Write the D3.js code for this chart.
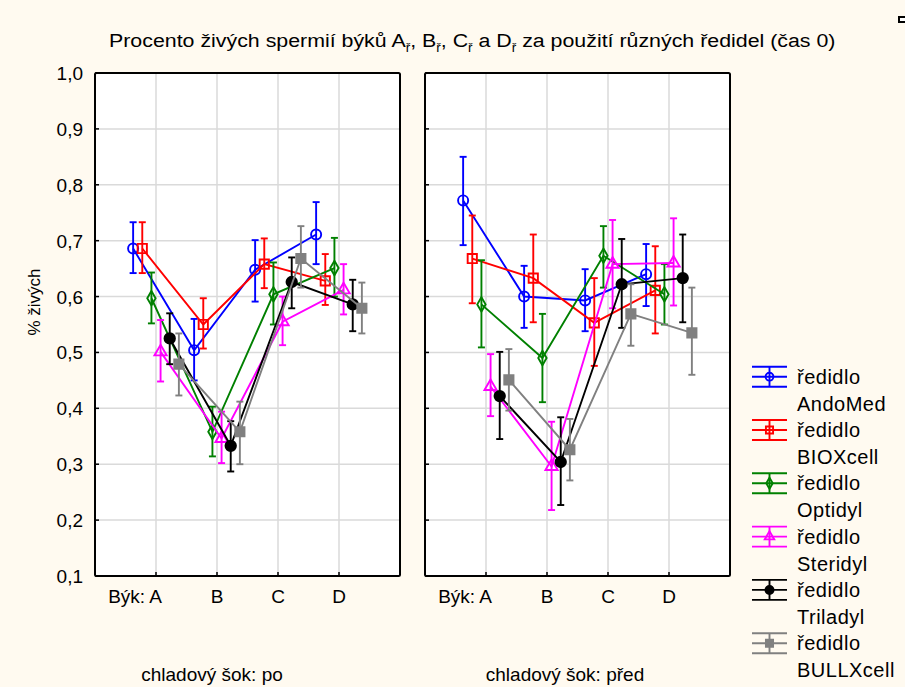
<!DOCTYPE html>
<html>
<head>
<meta charset="utf-8">
<script src="https://cdn.jsdelivr.net/npm/d3@7"></script>
<style>
  body { margin: 0; background: #fffaf0; }
  svg { display: block; font-family: "Liberation Sans", Arial, sans-serif; }
</style>
</head>
<body>
<svg id="chart" width="905" height="687"></svg>
<script>
var categories = ["A", "B", "C", "D"];
var panelNames = ["chladový šok: po", "chladový šok: před"];
var seriesNames = ["AndoMed", "BIOXcell", "Optidyl", "Steridyl", "Triladyl", "BULLXcell"];
var seriesColors = ["#0000ff", "#ff0000", "#008000", "#ff00ff", "#000000", "#808080"];
var yTicks = [0.1, 0.2, 0.3, 0.4, 0.5, 0.6, 0.7, 0.8, 0.9, 1.0];

// chladový šok: po
var meanPo = [
  [0.686, 0.504, 0.648, 0.711],
  [0.686, 0.550, 0.658, 0.628],
  [0.597, 0.358, 0.604, 0.651],
  [0.501, 0.346, 0.555, 0.612],
  [0.525, 0.333, 0.626, 0.586],
  [0.479, 0.358, 0.668, 0.579]
];
var lowPo = [
  [0.642, 0.450, 0.591, 0.658],
  [0.642, 0.507, 0.615, 0.585],
  [0.552, 0.314, 0.550, 0.600],
  [0.448, 0.302, 0.513, 0.568],
  [0.479, 0.287, 0.579, 0.538],
  [0.423, 0.300, 0.616, 0.534]
];
var highPo = [
  [0.733, 0.560, 0.701, 0.769],
  [0.733, 0.597, 0.704, 0.676],
  [0.643, 0.403, 0.661, 0.705],
  [0.558, 0.394, 0.600, 0.658],
  [0.570, 0.377, 0.670, 0.630],
  [0.534, 0.412, 0.726, 0.625]
];

// chladový šok: před
var meanPred = [
  [0.772, 0.600, 0.593, 0.640],
  [0.668, 0.633, 0.553, 0.611],
  [0.586, 0.490, 0.673, 0.604],
  [0.439, 0.296, 0.658, 0.660],
  [0.422, 0.304, 0.622, 0.633],
  [0.451, 0.326, 0.569, 0.535]
];
var lowPred = [
  [0.692, 0.544, 0.538, 0.583],
  [0.588, 0.554, 0.476, 0.534],
  [0.509, 0.411, 0.616, 0.550],
  [0.386, 0.218, 0.579, 0.584],
  [0.345, 0.227, 0.544, 0.554],
  [0.396, 0.271, 0.512, 0.460]
];
var highPred = [
  [0.850, 0.655, 0.649, 0.694],
  [0.745, 0.711, 0.633, 0.690],
  [0.665, 0.569, 0.726, 0.658],
  [0.497, 0.376, 0.737, 0.740],
  [0.501, 0.384, 0.703, 0.711],
  [0.506, 0.381, 0.622, 0.616]
];

var panelData = [
  {mean: meanPo, low: lowPo, high: highPo},
  {mean: meanPred, low: lowPred, high: highPred}
];

var svg = d3.select("#chart");
var panelLeft = [95, 425];
var panelW = 305;
var plotTop = 73, plotBottom = 576;
var lw = 1.9;

var y = d3.scaleLinear().domain([0.1, 1.0]).range([plotBottom, plotTop]);

// marker shapes per series
var symbols = [
  {type: d3.symbolCircle, size: 80, fill: false},
  {type: d3.symbolSquare, size: 85, fill: false},
  {type: d3.symbolDiamond, size: 60, fill: false},
  {type: d3.symbolTriangle, size: 65, fill: false},
  {type: d3.symbolCircle, size: 85, fill: true},
  {type: d3.symbolSquare, size: 85, fill: true}
];

function drawMarker(g, i, cx, cy, scale) {
  var s = symbols[i];
  g.append("path")
    .attr("d", d3.symbol().type(s.type).size(s.size * (scale || 1))())
    .attr("transform", "translate(" + cx + "," + cy + ")")
    .attr("fill", s.fill ? seriesColors[i] : "none")
    .attr("stroke", seriesColors[i])
    .attr("stroke-width", lw);
}

// title
var title = svg.append("text")
  .attr("y", 47)
  .attr("font-size", 19)
  .attr("fill", "#000");
var tparts = [
  ["Procento živých spermií býků A", false], ["ř", true],
  [", B", false], ["ř", true], [", C", false], ["ř", true],
  [" a D", false], ["ř", true], [" za použití různých ředidel (čas 0)", false]
];
tparts.forEach(function(p, i) {
  var t = title.append("tspan").text(p[0]);
  if (p[1]) t.attr("font-size", 12).attr("dy", 5);
  else if (i > 0) t.attr("dy", -5);
});
var tw = title.node().getBBox().width;
title.attr("transform", "translate(109,0) scale(" + (727 / tw) + ",1)");

panelData.forEach(function(pd, p) {
  var x0 = panelLeft[p];
  var x = d3.scaleLinear().domain([0, 5]).range([x0, x0 + panelW]);
  var g = svg.append("g");

  g.append("rect")
    .attr("x", x0).attr("y", plotTop)
    .attr("width", panelW).attr("height", plotBottom - plotTop)
    .attr("fill", "#fff");

  // grid
  g.selectAll(".hg").data(yTicks.slice(1, -1)).enter().append("line")
    .attr("x1", x0).attr("x2", x0 + panelW)
    .attr("y1", function(d) { return y(d); }).attr("y2", function(d) { return y(d); })
    .attr("stroke", "#dadada").attr("stroke-width", 1.5);
  g.selectAll(".vg").data(categories).enter().append("line")
    .attr("x1", function(d, i) { return x(i + 1); }).attr("x2", function(d, i) { return x(i + 1); })
    .attr("y1", plotTop).attr("y2", plotBottom)
    .attr("stroke", "#dadada").attr("stroke-width", 1.5);

  // series
  seriesNames.forEach(function(name, s) {
    var col = seriesColors[s];
    var off = (s - 2.5) * 0.15;
    var pts = categories.map(function(c, i) {
      return {x: x(i + 1 + off), m: pd.mean[s][i], lo: pd.low[s][i], hi: pd.high[s][i]};
    });
    g.append("path")
      .datum(pts)
      .attr("d", d3.line().x(function(d) { return d.x; }).y(function(d) { return y(d.m); }))
      .attr("fill", "none").attr("stroke", col).attr("stroke-width", lw);
    pts.forEach(function(d) {
      g.append("line").attr("x1", d.x).attr("x2", d.x)
        .attr("y1", y(d.lo)).attr("y2", y(d.hi))
        .attr("stroke", col).attr("stroke-width", lw);
      [d.lo, d.hi].forEach(function(v) {
        g.append("line").attr("x1", d.x - 3.5).attr("x2", d.x + 3.5)
          .attr("y1", y(v)).attr("y2", y(v))
          .attr("stroke", col).attr("stroke-width", lw);
      });
      drawMarker(g, s, d.x, y(d.m));
    });
  });

  // frame
  g.append("rect")
    .attr("x", x0).attr("y", plotTop)
    .attr("width", panelW).attr("height", plotBottom - plotTop)
    .attr("rx", 1.5)
    .attr("fill", "none").attr("stroke", "#000").attr("stroke-width", 2);

  // ticks (inward)
  g.selectAll(".xt").data(categories).enter().append("line")
    .attr("x1", function(d, i) { return x(i + 1); }).attr("x2", function(d, i) { return x(i + 1); })
    .attr("y1", plotBottom).attr("y2", plotBottom - 4)
    .attr("stroke", "#000").attr("stroke-width", 1.5);
  g.selectAll(".yt").data(yTicks).enter().append("line")
    .attr("x1", x0).attr("x2", x0 + 4)
    .attr("y1", function(d) { return y(d); }).attr("y2", function(d) { return y(d); })
    .attr("stroke", "#000").attr("stroke-width", 1.5);

  // x labels
  g.selectAll(".xl").data(categories).enter().append("text")
    .attr("x", function(d, i) { return x(i + 1) + (i === 0 ? 6 : 0); })
    .attr("y", 603)
    .attr("text-anchor", function(d, i) { return i === 0 ? "end" : "middle"; })
    .attr("font-size", 19)
    .text(function(d, i) { return i === 0 ? "Býk: " + d : d; });

  svg.append("text")
    .attr("x", [212, 565][p]).attr("y", 681)
    .attr("text-anchor", "middle")
    .attr("font-size", 19)
    .text(panelNames[p]);
});

// y axis labels
svg.selectAll(".yl").data(yTicks).enter().append("text")
  .attr("x", 83).attr("y", function(d) { return y(d) + 7; })
  .attr("text-anchor", "end")
  .attr("font-size", 19)
  .text(function(d) { return d3.format(".1f")(d).replace(".", ","); });

svg.append("text")
  .attr("transform", "translate(40,302) rotate(-90)")
  .attr("text-anchor", "middle")
  .attr("font-size", 17)
  .text("% živých");

// legend
seriesNames.forEach(function(name, s) {
  var cy = 376.7 + s * 53.3;
  var col = seriesColors[s];
  var lg = svg.append("g");
  [-10, 0, 10].forEach(function(dy) {
    lg.append("line").attr("x1", 752).attr("x2", 787)
      .attr("y1", cy + dy).attr("y2", cy + dy)
      .attr("stroke", col).attr("stroke-width", 1.9);
  });
  lg.append("line").attr("x1", 769.5).attr("x2", 769.5)
    .attr("y1", cy - 10).attr("y2", cy + 10)
    .attr("stroke", col).attr("stroke-width", 1.9);
  drawMarker(lg, s, 769.5, cy, 0.6);
  lg.append("text").attr("x", 797).attr("y", cy + 7)
    .attr("font-size", 20).attr("letter-spacing", 0.5).text("ředidlo");
  lg.append("text").attr("x", 797).attr("y", cy + 34)
    .attr("font-size", 20).attr("letter-spacing", 0.5).text(name);
});

// small mark at the top right corner
svg.append("rect")
  .attr("x", 899).attr("y", 17).attr("width", 10).attr("height", 5)
  .attr("fill", "#fff").attr("stroke", "#000").attr("stroke-width", 2);
</script>
</body>
</html>
